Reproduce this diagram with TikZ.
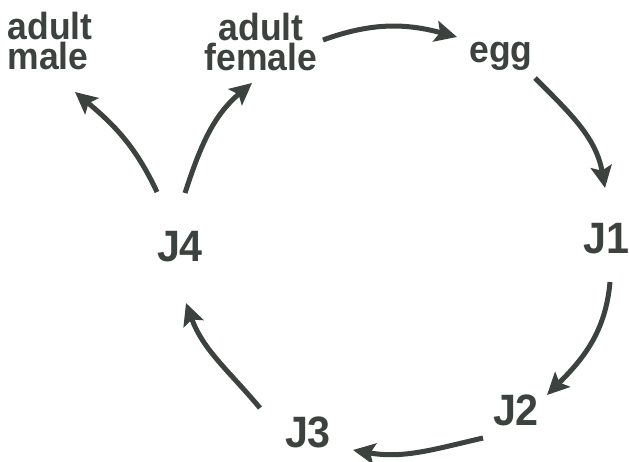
\documentclass[tikz,border=0pt]{standalone}
\usepackage{fontspec}
\newfontfamily\lblfont{Liberation Sans}[FakeStretch=0.94]
\usetikzlibrary{arrows.meta,calc}
\definecolor{ink}{RGB}{60,66,62}
\tikzset{
  lbl/.style={text=ink,font={\lblfont\bfseries\fontsize{21.5}{16.6}\selectfont\lineskiplimit-20pt\relax},inner sep=0pt},
  jl/.style={text=ink,font=\lblfont\bfseries\fontsize{25}{30}\selectfont,inner sep=0pt,anchor=base},
  arr/.style={-{Stealth[length=12.5pt,width=12pt,inset=2.5pt]},line width=2.85pt,draw=ink},
}
\begin{document}
\begin{tikzpicture}[x=0.02cm,y=0.02cm]
\useasboundingbox (0,0) rectangle (629,461);
\node[lbl,align=left] (male) at (50,420) {adult\\male};
\node[lbl,align=center] (female) at (261,419) {adult\\female};
\node[lbl,anchor=base] (egg) at (501,399) {egg};
\node[jl] (j1) at (606,208) {J1};
\node[jl] (j2) at (516,36) {J2};
\node[jl] (j3) at (308,14) {J3};
\node[jl] (j4) at (180,200) {J4};
% life cycle
\draw[arr] ($(female.center)+(62,2)$) to[out=20,in=165] ($(egg.base)+(-44,25)$);
\draw[arr] ($(egg.base)+(34,-16)$) to[out=-45,in=100] ($(j1.base)+(-1,65)$);
\draw[arr] ($(j1.base)+(4,-29)$) to[out=-95,in=45] ($(j2.base)+(31,30)$);
\draw[arr] ($(j2.base)+(-33,-13)$) to[out=193,in=-10] ($(j3.base)+(45,-3)$);
\draw[arr] ($(j3.base)+(-48,39)$) to[out=130,in=-70] ($(j4.base)+(6,-42)$);
% J4 splits
\draw[arr] ($(j4.base)+(-23,69)$) to[out=115,in=-40] ($(male.center)+(25,-51)$);
\draw[arr] ($(j4.base)+(5,68)$) to[out=72,in=-140] ($(female.center)+(-9,-41)$);
\end{tikzpicture}
\end{document}
